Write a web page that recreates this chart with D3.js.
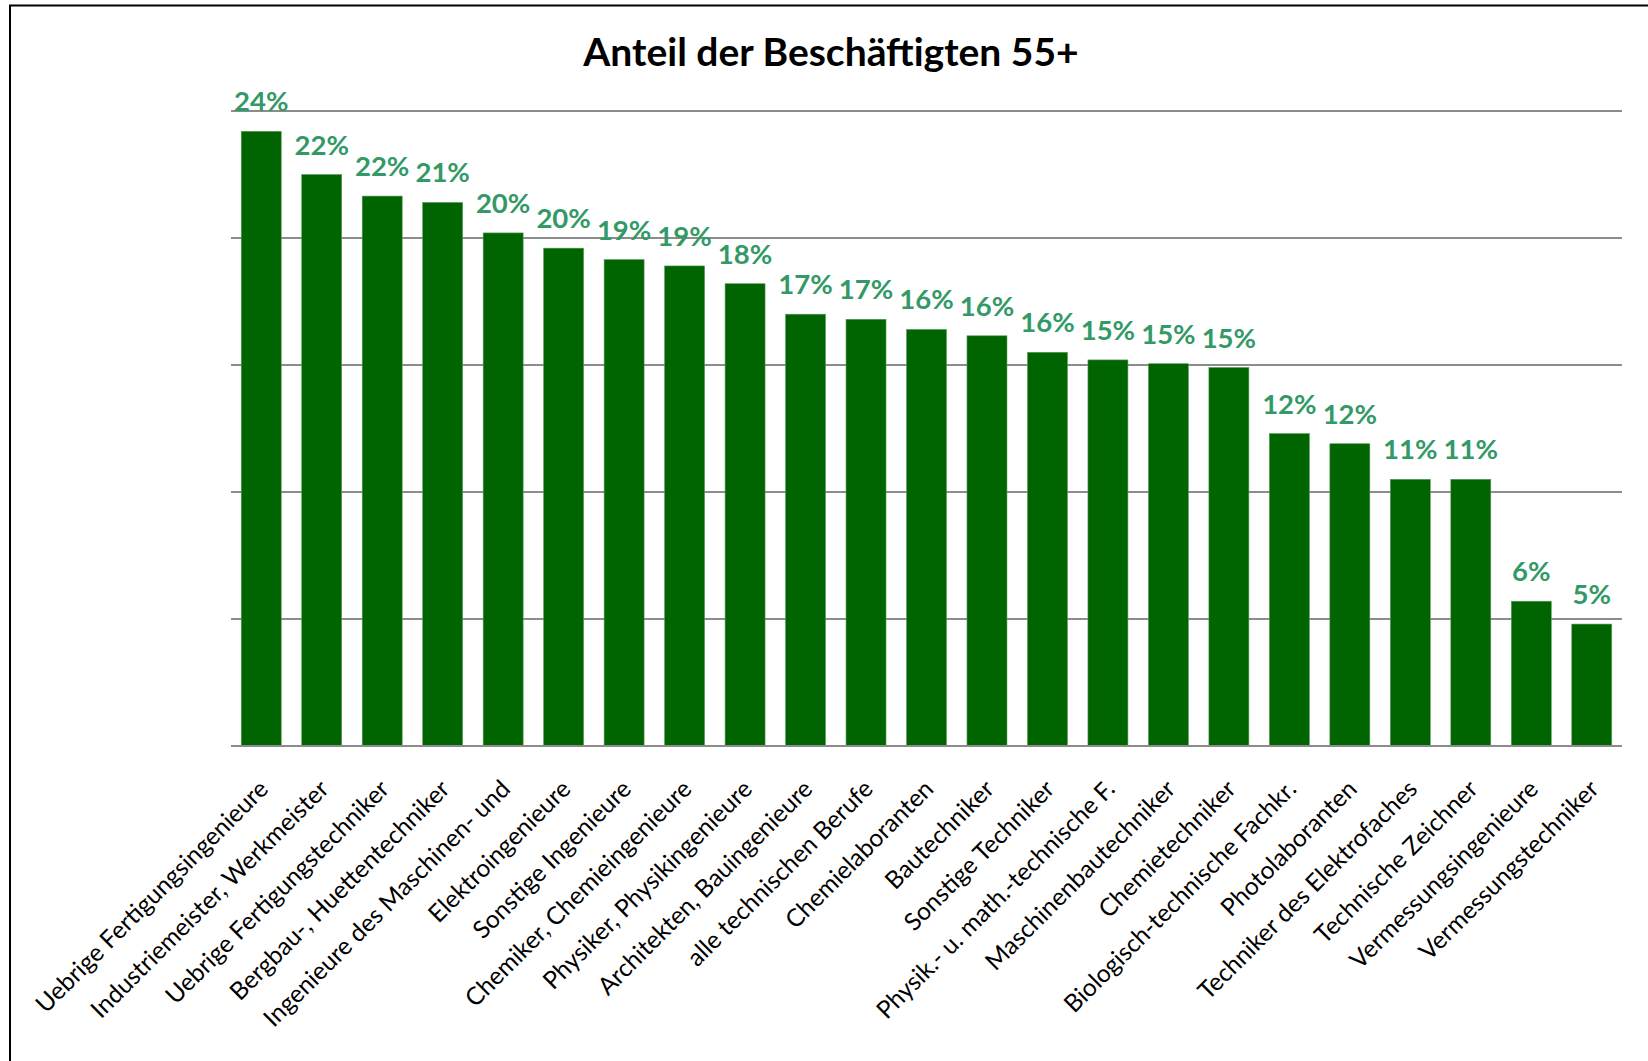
<!DOCTYPE html>
<html>
<head>
<meta charset="utf-8">
<script src="https://cdn.jsdelivr.net/npm/d3@7"></script>
<style>
  html, body { margin: 0; padding: 0; background: #fff; }
  svg { display: block; }
</style>
</head>
<body>
<svg id="chart" width="1648" height="1061"></svg>
<script>
const title = "Anteil der Beschäftigten 55+";
const categories = [
  "Uebrige Fertigungsingenieure",
  "Industriemeister, Werkmeister",
  "Uebrige Fertigungstechniker",
  "Bergbau-, Huettentechniker",
  "Ingenieure des Maschinen- und",
  "Elektroingenieure",
  "Sonstige Ingenieure",
  "Chemiker, Chemieingenieure",
  "Physiker, Physikingenieure",
  "Architekten, Bauingenieure",
  "alle technischen Berufe",
  "Chemielaboranten",
  "Bautechniker",
  "Sonstige Techniker",
  "Physik.- u. math.-technische F.",
  "Maschinenbautechniker",
  "Chemietechniker",
  "Biologisch-technische Fachkr.",
  "Photolaboranten",
  "Techniker des Elektrofaches",
  "Technische Zeichner",
  "Vermessungsingenieure",
  "Vermessungstechniker"
];
const values = [24.2, 22.5, 21.65, 21.4, 20.2, 19.6, 19.15, 18.9, 18.2, 17.0, 16.8, 16.4, 16.15, 15.5, 15.2, 15.05, 14.9, 12.3, 11.9, 10.5, 10.5, 5.7, 4.8];
const valueLabels = ["24%", "22%", "22%", "21%", "20%", "20%", "19%", "19%", "18%", "17%", "17%", "16%", "16%", "16%", "15%", "15%", "15%", "12%", "12%", "11%", "11%", "6%", "5%"];
const gridTicks = [0, 5, 10, 15, 20, 25];

const data = categories.map((c, i) => ({ cat: c, v: values[i], lab: valueLabels[i] }));

const svg = d3.select("#chart");
const plot = { left: 231, right: 1622, top: 111, bottom: 746 };

// chart border
svg.append("rect")
  .attr("x", 10).attr("y", 5.5)
  .attr("width", 1700).attr("height", 1100)
  .attr("fill", "none").attr("stroke", "#000").attr("stroke-width", 2);

const x = d3.scaleBand()
  .domain(categories)
  .range([plot.left, plot.right])
  .paddingInner(0.339)
  .paddingOuter(0.1695);

const y = d3.scaleLinear().domain([0, 25]).range([plot.bottom, plot.top]);

// gridlines
svg.append("g").selectAll("line")
  .data(gridTicks)
  .join("line")
  .attr("x1", plot.left).attr("x2", plot.right)
  .attr("y1", d => y(d)).attr("y2", d => y(d))
  .attr("stroke", "#8c8c8c").attr("stroke-width", 1.8);

// bars
svg.append("g").selectAll("rect")
  .data(data)
  .join("rect")
  .attr("x", d => x(d.cat))
  .attr("y", d => y(d.v))
  .attr("width", x.bandwidth())
  .attr("height", d => y(0) - y(d.v))
  .attr("fill", "#006400")
  .attr("stroke", "#5a9a5a").attr("stroke-width", 0.6);

// baseline redraw over bars
svg.append("line")
  .attr("x1", plot.left).attr("x2", plot.right)
  .attr("y1", y(0)).attr("y2", y(0))
  .attr("stroke", "#8c8c8c").attr("stroke-width", 1.8);

// value labels
svg.append("g").selectAll("text")
  .data(data)
  .join("text")
  .attr("x", d => x(d.cat) + x.bandwidth() / 2)
  .attr("y", d => y(d.v) - 20)
  .attr("text-anchor", "middle")
  .attr("font-family", "Lato, 'Open Sans', sans-serif")
  .attr("font-weight", "bold")
  .attr("font-size", 27.5)
  .attr("fill", "#339966")
  .text(d => d.lab);

// category labels
svg.append("g").selectAll("text")
  .data(data)
  .join("text")
  .attr("transform", d => `translate(${x(d.cat) + x.bandwidth() / 2 - 4},778) rotate(-45)`)
  .attr("text-anchor", "end")
  .attr("dy", "0.72em")
  .attr("font-family", "Lato, 'Open Sans', sans-serif")
  .attr("font-size", 24.5)
  .attr("fill", "#000")
  .text(d => d.cat);

// title
svg.append("text")
  .attr("x", 831).attr("y", 66)
  .attr("text-anchor", "middle")
  .attr("font-family", "Lato, 'Open Sans', sans-serif")
  .attr("font-weight", "bold")
  .attr("font-size", 39)
  .attr("fill", "#000")
  .text(title);
</script>
</body>
</html>
